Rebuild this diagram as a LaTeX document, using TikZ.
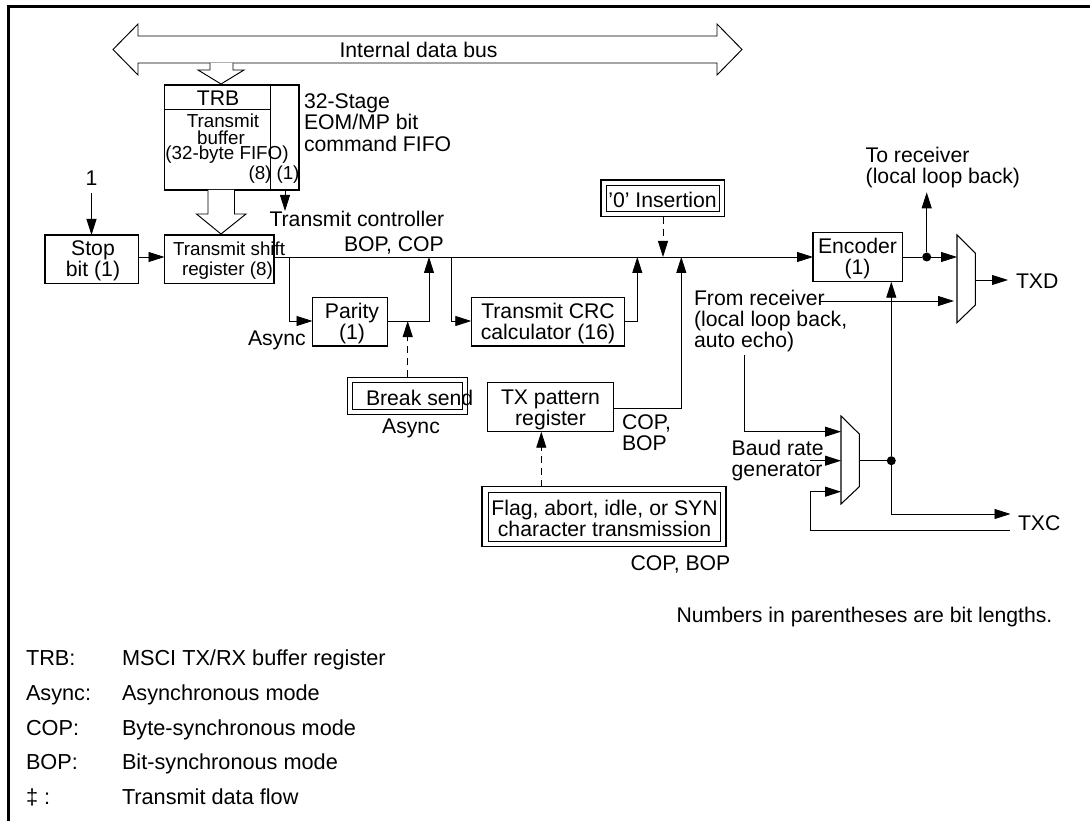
\documentclass[tikz,border=0pt]{standalone}
\usepackage{fontspec}
\setmainfont{Liberation Sans}
\usetikzlibrary{arrows.meta}
\tikzset{
  x=1pt,y=-1pt,
  every node/.style={inner sep=0pt,outer sep=0pt,font=\fontsize{21.2}{21}\selectfont,align=center},
  smalltext/.style={font=\fontsize{18.8}{17}\selectfont},
  legend/.style={anchor=base west,align=left,font=\fontsize{21.7}{21}\selectfont},
  lbl/.style={anchor=west,align=left},
  boxn/.style={draw,line width=1.05pt,rectangle},
  conn/.style={line width=0.85pt,-{Triangle[length=16pt,width=10pt]}},
  wire/.style={line width=0.85pt},
  dash conn/.style={conn,dash pattern=on 7pt off 5pt},
  hollow/.style={line width=0.95pt,fill=white,line join=miter},
  dotn/.style={circle,fill=black,minimum size=9pt},
}
\newcommand{\boxat}[5]{\node[boxn,minimum width=#3-#2,minimum height=#5-#4] (#1) at ({(#2+#3)/2},{(#4+#5)/2}) {};}
\begin{document}
\begin{tikzpicture}[line cap=butt]
\useasboundingbox (0,0) rectangle (1090,821);
% frame
\draw[line width=3pt] (8.5,821) -- (8.5,6.5) -- (1090,6.5);
% bus
\draw[hollow] (113,49.5) -- (138,24) -- (138,36) -- (717,36) -- (717,24) -- (742,49.5) -- (717,75) -- (717,63) -- (138,63) -- (138,75) -- cycle;
\node (bus) at (418.5,50) {Internal data bus};
% arrow to TRB
\draw[hollow] (210,63) -- (210,70) -- (198,70) -- (221,84) -- (244,70) -- (233,70) -- (233,63);
% TRB
\boxat{trb}{164.5}{299}{85}{190}
\draw[wire] (270,85) -- (270,190);
\draw[wire] (164.5,109) -- (270,109);
\node (trbt) at (218,98) {TRB};
\node[smalltext] (tb1) at (223,121) {Transmit};
\node[smalltext] (tb2) at (221,138) {buffer};
\node[smalltext] (tb3) at (227,155) {(32-byte FIFO)};
\node[smalltext] (tb4) at (260,175) {(8)};
\node[smalltext] (tb5) at (288,175) {(1)};
\node[lbl] (stg) at (304,122.5) {32-Stage\\[0.3pt]EOM/MP bit\\[0.3pt]command FIFO};
% big arrow
\draw[hollow] (208,190) -- (208,214) -- (196.5,214) -- (221,234) -- (246,214) -- (234.5,214) -- (234.5,190);
% stop bit
\boxat{stop}{45}{138.5}{235}{283.5}
\node (stopt) at (93,260.5) {Stop\\bit (1)};
\node (one) at (91.5,178) {1};
\coordinate (oneb) at (91.5,193);
\draw[conn] (oneb) -- (91.5,235);
% shift
\boxat{shift}{164.5}{274}{235}{283.5}
\node[smalltext,lbl] (sh1) at (173,249) {Transmit shift};
\node[smalltext,lbl] (sh2) at (182,271) {register (8)};
\draw[conn] (138.5,257) -- (164.5,257);
% tx ctrl
\coordinate (ctrl) at (285,190);
\draw[conn] (ctrl) -- (285,211);
\node[lbl] (tc) at (269.5,219) {Transmit controller};
\node[lbl] (bc) at (344,245) {BOP, COP};
% encoder
\boxat{enc}{813}{902.5}{232.7}{281.7}
\node (enct) at (857.5,258.5) {Encoder\\(1)};
\draw[conn] (274,257) -- (813,257);
% parity
\boxat{par}{312.5}{387.5}{297.7}{346}
\node (part) at (352,324) {Parity\\(1)};
\draw[conn] (289.5,257) -- (289.5,321) -- (312.5,321);
\draw[conn] (387.5,321) -- (429,321) -- (429,257);
\node[lbl] (as1) at (248,340) {Async};
% break send
\boxat{brko}{347.7}{467.7}{377.3}{414.3}
\boxat{brki}{352.7}{462.7}{382.7}{409.3}
\node[lbl] (brkt) at (366,397.7) {Break send};
\node (as2) at (411,428) {Async};
\draw[dash conn] (407.7,377.3) -- (407.7,321);
% crc
\boxat{crc}{471.3}{624.7}{297.7}{346}
\node (crct) at (548,323.5) {Transmit CRC\\calculator (16)};
\draw[conn] (451.3,257) -- (451.3,321) -- (471.3,321);
\draw[conn] (624.7,321) -- (637.3,321) -- (637.3,257);
% zero insertion
\boxat{zeroo}{601}{724.3}{180}{216.7}
\boxat{zeroi}{606.3}{719.3}{185.3}{211.7}
\node (zerot) at (662.5,200) {'0' Insertion};
\draw[dash conn] (663,216.7) -- (663,257);
% tx pattern
\boxat{txp}{487.7}{613.7}{382.7}{431.7}
\node (txpt) at (550.5,410) {TX pattern\\register};
\draw[conn] (613.7,408) -- (681.3,408) -- (681.3,257);
\node[lbl] (cb) at (622,432.5) {COP,\\BOP};
% flag
\boxat{flgo}{482}{726}{486.7}{546.7}
\boxat{flgi}{488.4}{720.3}{492.3}{541.3}
\node (flgt) at (604.5,518) {Flag, abort, idle, or SYN\\character transmission};
\draw[dash conn] (541.3,486.7) -- (541.3,431.7);
\node[lbl] (cb2) at (630.6,564) {COP, BOP};
\node[lbl] (note) at (676.5,617) {Numbers in parentheses are bit lengths.};
% mux1
\draw[line width=1.05pt] (957,235) -- (975.3,253.3) -- (975.3,305) -- (957,322.7) -- cycle;
\coordinate (mux1in) at (957,257);
\node[dotn] (d1) at (926.7,257) {};
\draw[wire] (902.5,257) -- (d1);
\draw[conn] (d1) -- (mux1in);
\coordinate (torx) at (926.7,192.3);
\draw[conn] (d1) -- (torx);
\node[lbl] (tr) at (865.7,167.5) {To receiver\\(local loop back)};
\coordinate (txdend) at (1008,280);
\draw[conn] (975.3,280) -- (txdend);
\node[lbl] (txd) at (1016,281.7) {TXD};
\node[lbl] (fr) at (694,321) {From receiver\\(local loop back,\\auto echo)};
\coordinate (frs) at (820,301);
\coordinate (fre) at (954,301);
\draw[conn] (frs) -- (fre);
% mux2
\draw[line width=1.05pt] (841,416) -- (859.3,434) -- (859.3,486.7) -- (841,504) -- cycle;
\coordinate (m2a) at (841,431.7);
\coordinate (m2b) at (841,460.7);
\coordinate (m2c) at (841,491.7);
\coordinate (frb) at (744.3,355);
\draw[conn] (frb) -- (744.3,431.7) -- (m2a);
\coordinate (brg) at (810,460.7);
\draw[conn] (brg) -- (m2b);
\node[lbl] (brgt) at (731.7,460.5) {Baud rate\\generator};
\coordinate (txcb) at (1009.7,530);
\draw[conn] (txcb) -- (810,530) -- (810,491.7) -- (m2c);
\node[dotn] (d2) at (891.3,460.7) {};
\draw[wire] (859.3,460.7) -- (d2);
\draw[conn] (d2) -- (891.3,281.7);
\coordinate (txce) at (1010.5,514);
\draw[conn] (d2) -- (891.3,514) -- (txce);
\node[lbl] (txc) at (1018,522.7) {TXC};
% legend
\node[legend] (l1) at (26,665) {TRB:};
\node[legend] (l2) at (26,700) {Async:};
\node[legend] (l3) at (26,735) {COP:};
\node[legend] (l4) at (26,769) {BOP:};
\node[legend] (l5) at (26,804) {‡ :};
\node[legend] (r1) at (122,665) {MSCI TX/RX buffer register};
\node[legend] (r2) at (122,700) {Asynchronous mode};
\node[legend] (r3) at (122,735) {Byte-synchronous mode};
\node[legend] (r4) at (122,769) {Bit-synchronous mode};
\node[legend] (r5) at (122,804) {Transmit data flow};
\end{tikzpicture}
\end{document}
